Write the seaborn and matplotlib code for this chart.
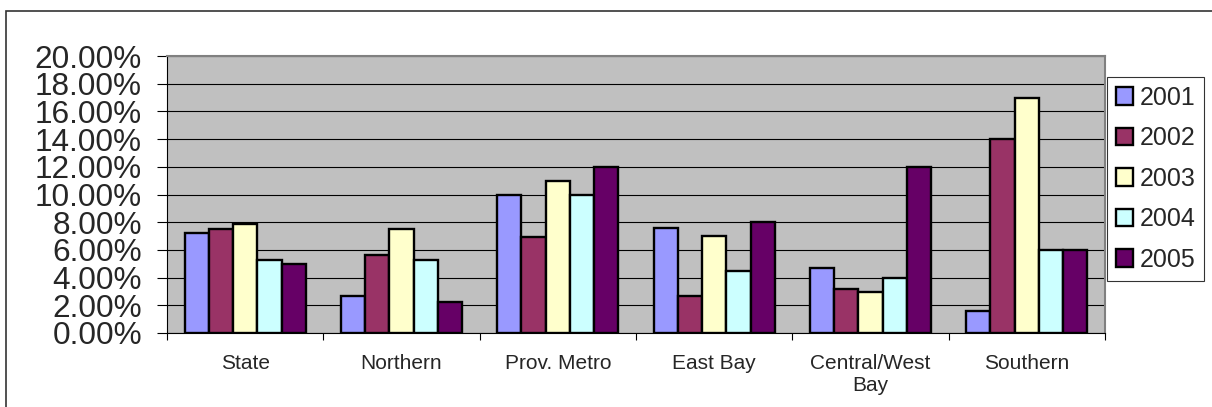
import matplotlib
matplotlib.use("Agg")
import matplotlib.pyplot as plt
import matplotlib.patches as mpatches
import seaborn as sns
import pandas as pd
import numpy as np

categories = ["State", "Northern", "Prov. Metro", "East Bay", "Central/West\nBay", "Southern"]
years = ["2001", "2002", "2003", "2004", "2005"]
v2001 = [7.2, 2.7, 10.0, 7.55, 4.7, 1.6]
v2002 = [7.5, 5.6, 6.95, 2.7, 3.15, 14.0]
v2003 = [7.9, 7.5, 11.0, 7.0, 2.95, 17.0]
v2004 = [5.25, 5.25, 10.0, 4.45, 4.0, 6.0]
v2005 = [5.0, 2.25, 12.0, 8.0, 12.0, 6.0]
colors = ["#9999FF", "#993366", "#FFFFCC", "#CCFFFF", "#660066"]
yticks = [0, 2, 4, 6, 8, 10, 12, 14, 16, 18, 20]

series = [v2001, v2002, v2003, v2004, v2005]
rows = []
for y, vals in zip(years, series):
    for c, v in zip(categories, vals):
        rows.append({"Region": c, "Year": y, "Value": v})
df = pd.DataFrame(rows)

sns.set_style("white")
plt.rcParams["font.family"] = ["Liberation Sans", "DejaVu Sans"]

fig = plt.figure(figsize=(12.12, 4.07), dpi=100)
ax = fig.add_axes([167/1212, 74/407, (1105-167)/1212, (333-56)/407])
ax.set_facecolor("#C0C0C0")

sns.barplot(data=df, x="Region", y="Value", hue="Year", order=categories,
            hue_order=years, palette=colors, width=0.775, edgecolor="black",
            linewidth=1.7, saturation=1, ax=ax, legend=False, zorder=3)

ax.set_ylim(0, 20)
ax.set_xlim(-0.5, len(categories) - 0.5)
ax.set_yticks(yticks)
ax.set_yticklabels([f"{t:.2f}%" for t in yticks])
ax.yaxis.grid(True, color="black", linewidth=0.8, zorder=0)
ax.set_axisbelow(True)
ax.set_xlabel("")
ax.set_ylabel("")

ax.tick_params(axis="y", which="major", length=7, width=0.8, color="black",
               labelsize=22.7, pad=11, left=True, direction="out")
ax.tick_params(axis="x", which="major", length=0, labelsize=15, pad=15)
ax.set_xticks(np.arange(-0.5, len(categories)), minor=True)
ax.tick_params(axis="x", which="minor", length=5, width=0.8, color="black",
               bottom=True, direction="out")

for s in ["top", "right"]:
    ax.spines[s].set_color("#808080")
    ax.spines[s].set_linewidth(1.5)
ax.spines["left"].set_color("black")
ax.spines["left"].set_linewidth(0.8)
ax.spines["bottom"].set_color("black")
ax.spines["bottom"].set_linewidth(0.8)

handles = [mpatches.Patch(facecolor=c, edgecolor="black", linewidth=1.7, label=y)
           for c, y in zip(colors, years)]
leg = fig.legend(handles=handles, loc="upper left",
                 bbox_to_anchor=(1107/1212, 1 - 77/407), borderaxespad=0,
                 fontsize=18, frameon=True, fancybox=False, handlelength=0.7,
                 handleheight=0.7, handletextpad=0.25, labelspacing=0.66,
                 borderpad=0.35)
leg.get_frame().set_edgecolor("black")
leg.get_frame().set_linewidth(0.8)

border = mpatches.Rectangle((6/1212, -0.5), 2.0, 1.5 - 11/407,
                            transform=fig.transFigure, fill=False,
                            edgecolor="#333333", linewidth=1.2)
fig.patches.append(border)

fig.savefig("out.png", dpi=100)
